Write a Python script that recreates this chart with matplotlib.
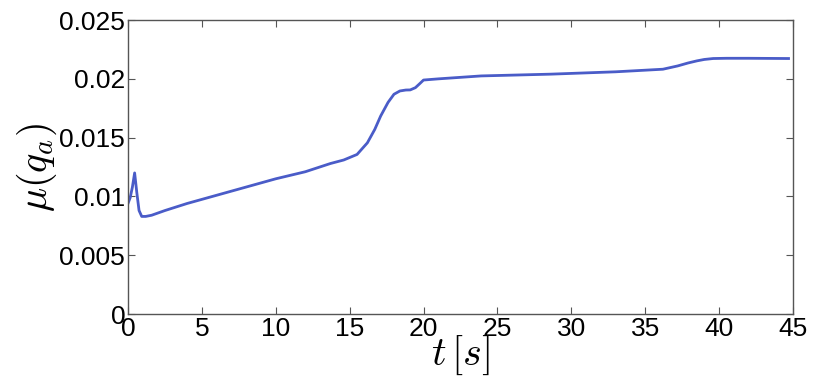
import matplotlib
matplotlib.use("Agg")
import matplotlib.pyplot as plt

t = [0.0, 0.15, 0.3, 0.45, 0.6, 0.75, 0.93, 1.2, 1.6, 2.5, 4.0, 6.0, 8.0, 10.0, 12.0,
     13.7, 14.6, 15.5, 16.2, 16.7, 17.1, 17.6, 18.0, 18.4, 18.8, 19.1, 19.45, 19.75, 20.0,
     21.0, 23.9, 28.6, 33.0, 36.2, 37.2, 37.9, 38.5, 39.0, 39.6, 40.5, 42.0, 44.7]
mu = [0.0094, 0.0099, 0.0108, 0.0120, 0.0103, 0.0088, 0.0083, 0.0083, 0.0084, 0.0088,
      0.0094, 0.0101, 0.0108, 0.0115, 0.0121, 0.0128, 0.0131, 0.01357, 0.01456, 0.0157,
      0.01684, 0.0180, 0.01869, 0.01897, 0.01905, 0.01906, 0.01925, 0.0196, 0.0199,
      0.0200, 0.02025, 0.0204, 0.0206, 0.02082, 0.0211, 0.02135, 0.02153, 0.02165,
      0.02173, 0.02175, 0.02175, 0.02173]

xticks = [0, 5, 10, 15, 20, 25, 30, 35, 40, 45]
yticks = [0, 0.005, 0.01, 0.015, 0.02, 0.025]
yticklabels = ["0", "0.005", "0.01", "0.015", "0.02", "0.025"]

plt.rcParams['font.family'] = ['Liberation Sans', 'DejaVu Sans']
plt.rcParams['mathtext.fontset'] = 'cm'

fig = plt.figure(figsize=(8.23, 3.86), dpi=100)
ax = fig.add_axes([0.1555, 0.1865, 0.808, 0.7615])
ax.plot(t, mu, color='#4a5cc8', lw=2.0)
ax.set_xlim(0, 45)
ax.set_ylim(0, 0.025)
ax.set_xticks(xticks)
ax.set_xticklabels([str(v) for v in xticks])
ax.set_yticks(yticks)
ax.set_yticklabels(yticklabels)
ax.tick_params(direction='in', top=True, right=True, length=5, width=0.8,
               labelsize=19, colors='#555555', labelcolor='black', pad=2)
for s in ax.spines.values():
    s.set_color('#555555')
    s.set_linewidth(1.0)
ax.set_xlabel(r'$t\,[s]$', fontsize=29, labelpad=-5)
ax.set_ylabel(r'$\mu(q_a)$', fontsize=29, labelpad=0)
fig.savefig('out.png', dpi=100)
